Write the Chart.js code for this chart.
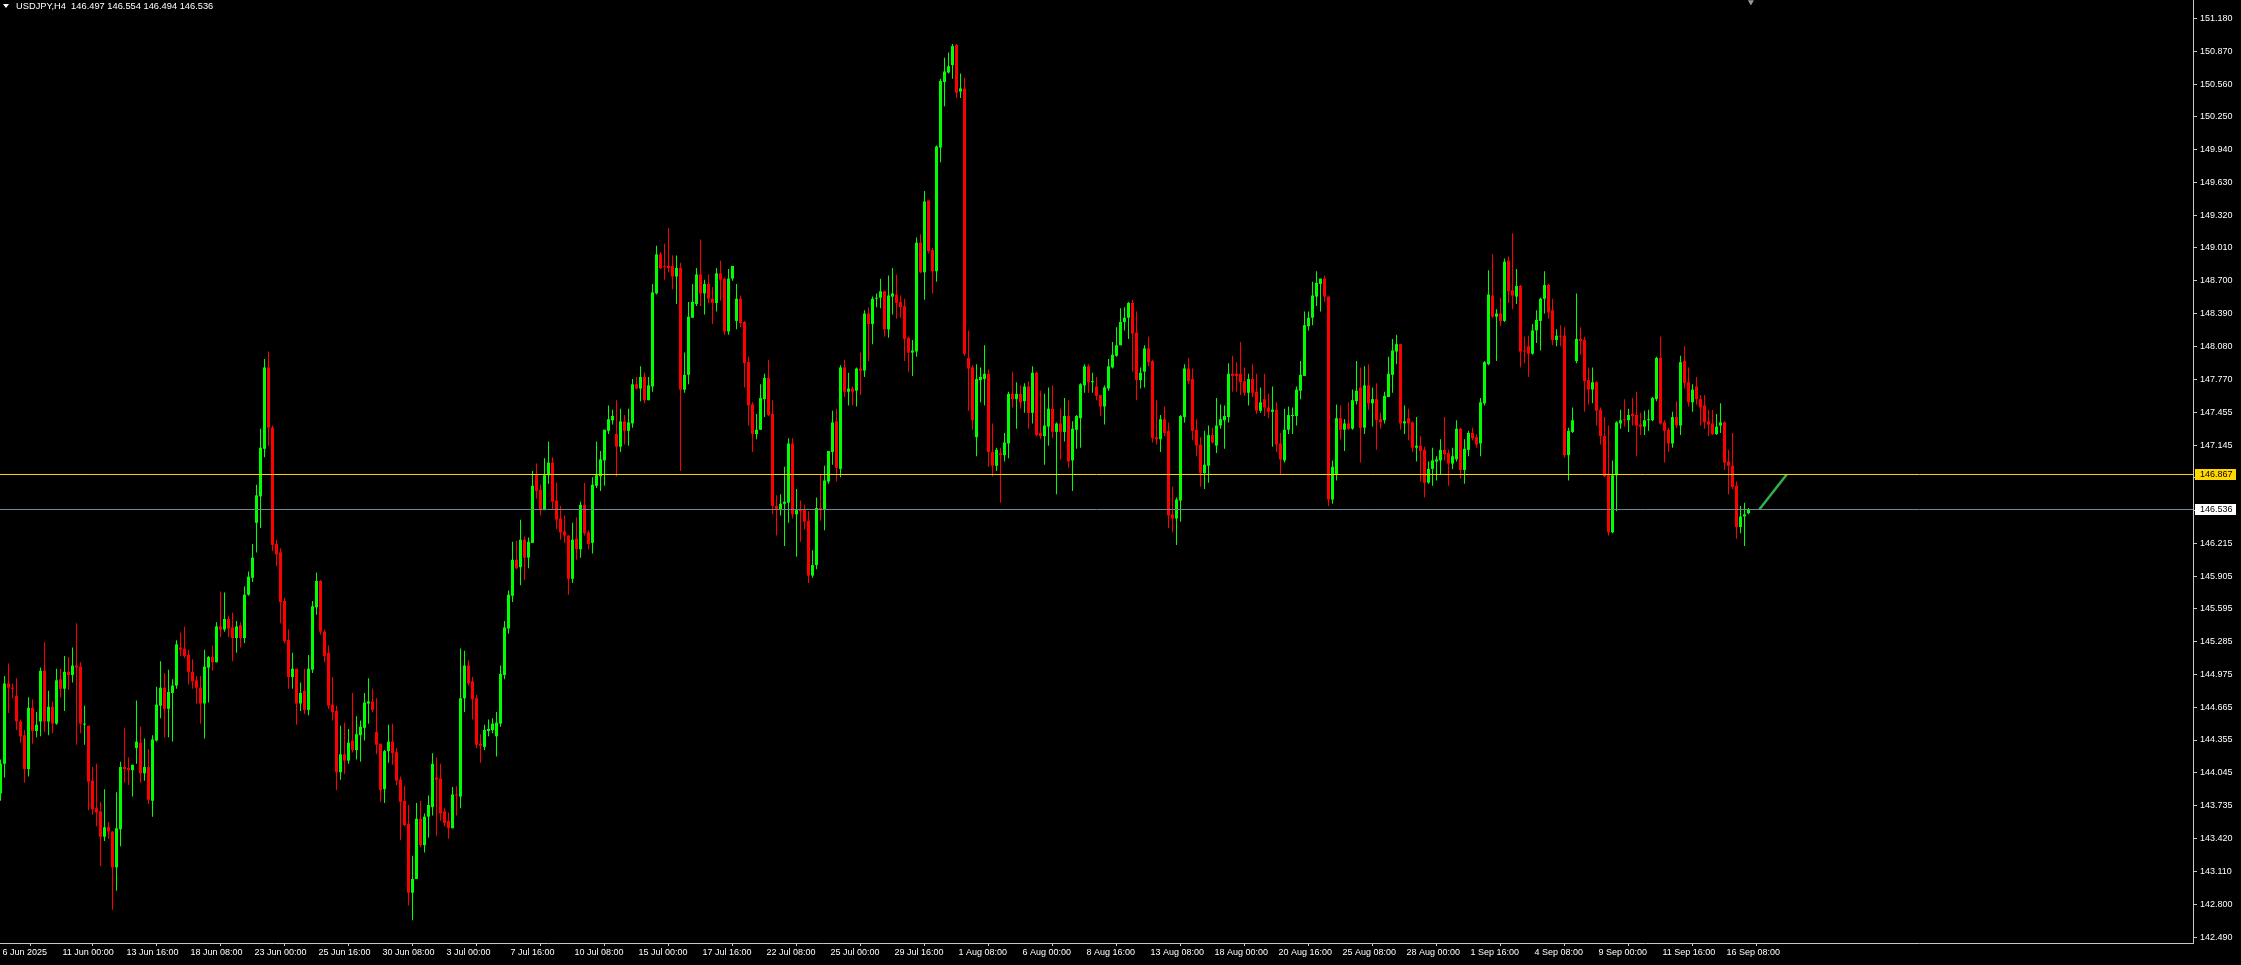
<!DOCTYPE html>
<html>
<head>
<meta charset="utf-8">
<script src="https://cdn.jsdelivr.net/npm/chart.js@4.4.1/dist/chart.umd.min.js"></script>
<style>
  html, body { margin: 0; padding: 0; background: #000; overflow: hidden; }
  #wrap { position: relative; width: 2241px; height: 965px; }
  #head {
    position: absolute; left: 3px; top: 1px;
    color: #fff; font: 9.3px "Liberation Sans", Arial, sans-serif;
    white-space: pre; line-height: 11px;
  }
  #head .tri {
    display: inline-block; width: 0; height: 0; margin-right: 7px; vertical-align: 1px;
    border-left: 3px solid transparent; border-right: 3px solid transparent; border-top: 4px solid #fff;
  }
</style>
</head>
<body>
<div id="wrap">
  <canvas id="chart" width="2241" height="965"></canvas>
  <div id="head"><span class="tri"></span>USDJPY,H4  146.497 146.554 146.494 146.536</div>
</div>
<script>
// H4 bars, first visible bar = index 0
const opens = [
  143.85,144.13,144.89,144.85,144.77,144.53,144.40,144.08,144.66,144.44,
  144.53,145.01,144.53,144.67,144.51,144.93,144.84,145.00,144.97,145.06,
  145.05,144.50,144.49,143.97,143.71,143.68,143.44,143.53,143.49,143.15,
  143.51,144.10,144.09,144.07,144.28,144.33,144.04,144.10,143.78,144.35,
  144.68,144.85,144.65,144.80,144.87,145.23,145.22,145.16,145.00,144.92,
  144.85,144.70,145.04,145.14,145.09,145.43,145.40,145.50,145.42,145.32,
  145.44,145.32,145.73,145.89,146.41,146.66,147.11,147.88,147.31,146.21,
  146.13,145.67,145.30,144.95,145.03,144.70,144.82,144.64,145.02,145.61,
  145.86,145.38,145.18,144.69,144.63,144.05,144.22,144.16,144.35,144.26,
  144.40,144.47,144.70,144.72,144.43,144.32,143.89,144.25,144.34,144.24,
  143.98,143.78,143.56,142.91,143.04,143.61,143.36,143.63,143.72,144.00,
  143.99,143.68,143.59,143.52,143.84,143.82,144.75,145.06,144.91,144.75,
  144.32,144.29,144.44,144.45,144.39,144.51,144.97,145.41,145.72,146.06,
  145.99,146.25,146.08,146.22,146.86,146.72,146.53,146.86,146.98,146.62,
  146.45,146.33,146.29,145.88,146.26,146.16,146.58,146.32,146.22,146.76,
  146.85,147.00,147.28,147.38,147.25,147.13,147.37,147.28,147.35,147.72,
  147.68,147.79,147.57,147.70,148.58,148.95,148.84,148.84,148.84,148.74,
  148.82,147.67,147.81,148.35,148.48,148.76,148.58,148.67,148.53,148.49,
  148.77,148.72,148.22,148.72,148.32,148.53,148.31,147.93,147.53,147.25,
  147.29,147.58,147.78,147.44,146.57,146.54,146.59,146.60,147.16,146.49,
  146.54,146.53,146.43,145.91,146.01,146.55,146.54,146.80,147.08,147.37,
  146.92,147.88,147.65,147.68,147.66,147.87,147.85,148.39,148.29,148.53,
  148.54,148.60,148.24,148.55,148.57,148.50,148.46,148.16,148.02,148.03,
  149.06,148.78,149.46,148.99,148.79,149.96,150.58,150.67,150.74,150.93,
  150.49,150.52,147.97,147.88,147.22,147.76,147.77,147.82,147.08,146.95,
  147.07,147.05,147.16,147.63,147.58,147.63,147.56,147.70,147.45,147.83,
  147.26,147.23,147.32,147.49,147.27,147.35,147.27,147.42,147.00,147.29,
  147.40,147.71,147.89,147.74,147.70,147.62,147.51,147.68,147.88,147.99,
  148.09,148.31,148.35,148.49,148.21,147.76,147.84,148.06,147.94,147.22,
  147.20,147.39,147.28,146.49,146.45,146.62,147.41,147.87,147.77,147.29,
  147.15,146.88,146.95,147.24,147.14,147.33,147.38,147.41,147.82,147.82,
  147.82,147.75,147.64,147.77,147.65,147.47,147.58,147.50,147.46,147.48,
  147.16,147.00,147.29,147.42,147.42,147.66,147.80,148.27,148.35,148.55,
  148.67,148.72,148.55,146.63,146.87,147.40,147.29,147.35,147.30,147.56,
  147.69,147.31,147.71,147.54,147.58,147.39,147.38,147.60,147.81,148.03,
  148.10,147.35,147.40,147.36,147.12,147.14,147.10,146.79,146.92,146.99,
  147.00,147.10,147.07,146.97,147.01,147.30,146.91,147.10,147.26,147.22,
  147.16,147.54,147.91,148.56,148.36,148.39,148.32,148.89,148.61,148.55,
  148.65,148.04,148.08,148.01,148.23,148.32,148.53,148.66,148.42,148.14,
  148.18,148.18,147.05,147.27,147.94,148.15,148.14,147.76,147.67,147.74,
  147.48,147.23,146.86,146.32,146.86,147.35,147.39,147.38,147.44,147.43,
  147.34,147.32,147.38,147.38,147.58,147.97,147.36,147.29,147.16,147.41,
  147.33,147.94,147.74,147.55,147.70,147.58,147.52,147.37,147.35,147.25,
  147.33,147.36,146.99,146.95,146.76,146.37,146.47,146.50
];
const highs = [
  144.17,144.96,145.08,144.89,144.94,144.55,144.45,144.76,144.74,144.62,
  145.04,145.28,144.82,144.72,145.03,145.03,145.15,145.14,145.23,145.46,
  145.09,144.68,144.49,144.10,144.13,143.77,143.89,143.58,143.49,143.86,
  144.15,144.47,144.19,144.12,144.73,144.48,144.37,144.27,144.40,144.86,
  145.10,144.99,145.02,144.93,145.30,145.37,145.43,145.21,145.12,144.96,
  144.96,145.21,145.15,145.25,145.47,145.76,145.75,145.53,145.56,145.48,
  145.47,145.81,145.95,146.21,146.77,147.30,147.96,148.03,147.33,146.25,
  146.17,145.70,145.40,145.18,145.03,144.90,145.03,145.16,145.67,145.94,
  145.87,145.40,145.25,144.95,144.68,144.49,144.52,144.46,144.80,144.58,
  144.54,144.80,144.94,144.84,144.75,144.32,144.26,144.50,144.51,144.28,
  144.01,143.92,143.74,143.26,143.76,143.78,143.66,143.83,144.23,144.19,
  144.13,143.71,143.67,143.91,143.92,145.22,145.20,145.11,144.95,144.78,
  144.41,144.50,144.55,144.56,144.62,145.06,145.48,145.77,146.23,146.24,
  146.44,146.28,146.27,146.90,146.97,146.77,147.02,147.18,147.03,146.79,
  146.57,146.48,146.29,146.41,146.46,146.61,146.79,146.34,146.84,147.18,
  147.09,147.29,147.52,147.48,147.57,147.49,147.43,147.49,147.77,147.79,
  147.89,147.83,147.79,148.67,149.03,148.97,149.05,149.20,148.94,148.94,
  148.87,148.02,148.50,148.67,148.82,149.09,148.71,148.76,148.64,148.82,
  148.89,148.73,148.81,148.84,148.67,148.56,148.32,147.98,147.55,147.44,
  147.72,147.82,147.95,147.57,146.67,146.68,146.94,147.21,147.21,146.73,
  146.62,146.58,146.52,146.15,146.65,146.87,146.95,147.09,147.47,147.49,
  147.90,147.95,147.83,147.70,147.88,148.02,148.42,148.45,148.55,148.58,
  148.72,148.60,148.75,148.82,148.76,148.56,148.53,148.17,148.14,149.11,
  149.14,149.55,149.46,149.01,149.98,150.61,150.81,150.86,150.94,150.94,
  150.66,150.62,148.23,147.90,147.91,147.88,148.09,147.86,147.35,147.12,
  147.12,147.26,147.65,147.84,147.74,147.71,147.73,147.75,147.89,147.84,
  147.66,147.63,147.69,147.71,147.36,147.49,147.59,147.57,147.37,147.43,
  147.73,147.91,147.91,147.83,147.79,147.62,147.71,147.96,148.12,148.26,
  148.44,148.45,148.50,148.52,148.41,147.88,148.09,148.17,147.95,147.57,
  147.43,147.51,147.36,146.75,146.65,147.43,147.91,147.97,147.87,147.39,
  147.22,147.28,147.33,147.31,147.59,147.53,147.52,147.92,147.99,147.93,
  148.12,147.88,147.82,147.91,147.82,147.69,147.82,147.63,147.70,147.55,
  147.26,147.49,147.51,147.50,147.70,147.94,148.41,148.41,148.69,148.79,
  148.72,148.75,148.55,147.00,147.53,147.52,147.39,147.55,147.67,147.94,
  147.88,147.89,147.91,147.69,147.73,147.45,147.65,147.98,148.15,148.19,
  148.10,147.52,147.49,147.37,147.41,147.23,147.13,146.99,147.12,147.04,
  147.20,147.41,147.10,147.12,147.38,147.31,147.20,147.28,147.31,147.25,
  147.59,147.94,148.80,148.95,148.43,148.54,148.91,148.93,149.15,148.81,
  148.66,148.17,148.18,148.29,148.42,148.54,148.79,148.67,148.53,148.24,
  148.28,148.26,147.31,147.50,148.58,148.26,148.17,147.88,147.88,147.75,
  147.50,147.41,147.33,147.00,147.37,147.48,147.58,147.49,147.59,147.65,
  147.45,147.47,147.48,147.60,147.98,148.17,147.38,147.31,147.46,147.56,
  147.99,148.08,147.88,147.72,147.79,147.62,147.62,147.48,147.48,147.44,
  147.54,147.37,147.10,147.26,146.80,146.57,146.60,146.55
];
const lows = [
  143.78,144.00,144.61,144.75,144.45,144.33,143.95,144.01,144.32,144.38,
  144.39,144.43,144.40,144.42,144.50,144.76,144.63,144.83,144.90,144.31,
  144.42,144.31,143.69,143.65,143.54,143.16,143.40,143.42,142.75,142.93,
  143.35,143.95,143.93,143.82,144.13,143.95,143.97,143.75,143.63,144.34,
  144.56,144.38,144.38,144.34,144.84,145.15,145.13,144.88,144.84,144.70,
  144.51,144.37,144.71,145.01,145.09,145.33,145.38,145.33,145.10,145.18,
  145.23,145.27,145.72,145.85,146.13,146.36,147.03,147.14,146.14,146.00,
  145.46,145.27,144.84,144.84,144.50,144.63,144.60,144.59,144.99,145.54,
  145.35,145.09,144.65,144.54,143.88,143.98,144.03,144.13,144.24,144.17,
  144.15,144.35,144.51,144.62,144.22,143.77,143.76,144.14,144.12,143.93,
  143.41,143.54,142.79,142.65,143.04,143.34,143.29,143.43,143.64,143.45,
  143.59,143.54,143.42,143.52,143.64,143.71,144.62,144.87,144.55,144.28,
  144.14,144.26,144.39,144.42,144.20,144.48,144.93,145.36,145.66,145.97,
  145.82,145.87,145.98,146.22,146.64,146.48,146.53,146.78,146.53,146.35,
  146.25,146.22,145.73,145.84,146.06,146.08,146.29,146.16,146.12,146.74,
  146.71,146.76,147.25,147.34,146.85,147.08,147.15,147.14,147.31,147.67,
  147.56,147.54,147.57,147.65,148.57,148.81,148.71,148.78,148.62,148.48,
  146.90,147.64,147.72,148.35,148.46,148.46,148.38,148.49,148.29,148.41,
  148.51,148.19,148.19,148.70,148.24,148.26,147.69,147.33,147.08,147.20,
  147.29,147.41,147.42,146.49,146.29,146.48,146.19,146.41,146.45,146.09,
  146.23,146.35,145.84,145.89,145.97,146.43,146.34,146.78,146.96,146.80,
  146.84,147.60,147.52,147.52,147.51,147.62,147.79,147.94,148.10,148.45,
  148.44,148.17,148.16,148.38,148.34,148.35,147.94,147.84,147.80,147.98,
  148.77,148.52,148.96,148.58,148.69,149.82,150.35,150.66,150.61,150.43,
  150.43,147.99,147.47,147.29,147.04,147.55,147.52,146.94,146.85,146.90,
  146.60,146.99,147.02,147.50,147.30,147.49,147.45,147.30,147.35,147.23,
  147.20,146.96,147.14,147.21,146.68,147.01,147.18,146.93,146.71,147.11,
  147.12,147.64,147.64,147.64,147.57,147.42,147.34,147.66,147.87,147.98,
  148.09,148.23,148.15,147.84,147.57,147.68,147.69,147.89,147.17,147.15,
  147.08,147.23,146.36,146.32,146.20,146.42,147.36,147.72,147.19,147.04,
  146.75,146.73,146.79,147.16,147.07,147.30,147.11,147.36,147.65,147.65,
  147.62,147.61,147.52,147.60,147.44,147.45,147.42,147.40,147.13,147.08,
  146.87,146.98,147.25,147.25,147.33,147.58,147.80,148.23,148.28,148.46,
  148.41,148.50,146.57,146.59,146.81,147.20,147.09,147.29,147.29,147.53,
  146.98,147.25,147.48,147.32,147.10,147.30,147.35,147.60,147.64,147.91,
  147.29,147.25,147.19,147.08,146.99,146.80,146.65,146.78,146.76,146.81,
  146.87,147.00,146.76,146.92,146.99,146.83,146.78,147.04,147.19,147.12,
  147.04,147.52,147.90,148.35,147.94,148.27,148.31,148.49,148.43,148.48,
  147.88,147.92,147.79,148.00,148.11,148.04,148.39,148.34,148.09,148.08,
  148.08,147.03,146.81,147.26,147.92,148.00,147.46,147.53,147.54,147.33,
  147.15,146.84,146.29,146.31,146.52,147.30,147.32,147.27,147.33,147.04,
  147.24,147.24,147.28,147.37,147.56,147.34,146.98,147.08,147.12,147.31,
  147.24,147.68,147.51,147.46,147.53,147.33,147.30,147.23,147.24,147.24,
  147.26,146.91,146.68,146.73,146.26,146.31,146.19,146.49
];
const closes = [
  144.13,144.89,144.85,144.84,144.53,144.39,144.08,144.66,144.44,144.50,
  145.01,144.53,144.67,144.51,144.92,144.84,145.00,144.97,145.06,145.04,
  144.51,144.51,143.96,143.70,143.67,143.44,143.53,143.49,143.15,143.52,
  144.10,144.08,144.07,144.12,144.34,144.04,144.10,143.79,144.36,144.69,
  144.85,144.65,144.81,144.87,145.26,145.21,145.15,145.00,144.91,144.85,
  144.70,145.05,145.14,145.09,145.43,145.40,145.50,145.41,145.32,145.43,
  145.32,145.73,145.90,146.08,146.67,147.12,147.88,147.31,146.20,146.11,
  145.66,145.29,144.95,145.03,144.70,144.80,144.64,145.03,145.62,145.86,
  145.38,145.15,144.68,144.62,144.05,144.22,144.16,144.33,144.26,144.41,
  144.48,144.71,144.72,144.64,144.31,143.88,144.25,144.34,144.23,143.97,
  143.77,143.55,142.91,143.04,143.61,143.36,143.63,143.74,144.13,143.98,
  143.66,143.57,143.52,143.84,143.83,144.75,145.06,144.89,144.74,144.31,
  144.30,144.45,144.46,144.51,144.52,144.98,145.42,145.73,146.06,145.98,
  146.25,146.08,146.23,146.76,146.71,146.53,146.86,146.98,146.61,146.44,
  146.32,146.29,145.88,146.25,146.16,146.58,146.31,146.21,146.77,146.86,
  147.01,147.29,147.39,147.42,147.13,147.37,147.28,147.36,147.72,147.68,
  147.79,147.57,147.71,148.59,148.95,148.82,148.83,148.82,148.74,148.82,
  147.67,147.81,148.36,148.50,148.76,148.58,148.67,148.53,148.49,148.77,
  148.71,148.22,148.72,148.84,148.53,148.30,147.92,147.52,147.25,147.29,
  147.59,147.78,147.43,146.57,146.54,146.59,146.61,147.16,146.49,146.53,
  146.52,146.42,145.91,146.01,146.55,146.53,146.81,147.09,147.36,146.93,
  147.88,147.65,147.68,147.65,147.87,147.85,148.39,148.29,148.53,148.54,
  148.60,148.24,148.56,148.58,148.49,148.45,148.15,148.02,148.04,149.06,
  148.78,149.45,148.98,148.79,149.97,150.59,150.68,150.73,150.92,150.48,
  150.52,148.01,147.87,147.38,147.77,147.79,147.82,147.08,146.95,147.10,
  147.05,147.17,147.63,147.58,147.63,147.55,147.70,147.45,147.83,147.24,
  147.23,147.33,147.49,147.27,147.35,147.27,147.42,146.99,147.30,147.42,
  147.72,147.89,147.74,147.75,147.61,147.51,147.69,147.89,148.00,148.09,
  148.31,148.35,148.49,148.20,147.76,147.83,148.06,147.93,147.21,147.20,
  147.39,147.26,146.48,146.45,146.63,147.42,147.87,147.75,147.28,147.14,
  146.88,146.96,147.24,147.17,147.33,147.39,147.42,147.82,147.80,147.80,
  147.74,147.64,147.77,147.64,147.47,147.55,147.50,147.46,147.48,147.15,
  147.01,147.29,147.43,147.43,147.67,147.81,148.28,148.35,148.56,148.68,
  148.72,148.55,146.63,146.94,147.40,147.29,147.35,147.30,147.57,147.66,
  147.31,147.71,147.54,147.58,147.38,147.36,147.61,147.82,148.04,148.10,
  147.35,147.37,147.35,147.12,147.14,147.09,146.79,146.92,147.00,147.01,
  147.10,147.06,146.97,147.04,147.30,146.91,147.11,147.26,147.21,147.15,
  147.55,147.93,148.57,148.36,148.39,148.32,148.88,148.60,148.56,148.65,
  148.03,148.03,148.01,148.23,148.33,148.53,148.66,148.40,148.14,148.18,
  148.17,147.05,147.28,147.38,148.15,148.13,147.75,147.67,147.74,147.47,
  147.23,146.85,146.32,146.86,147.36,147.38,147.38,147.43,147.42,147.33,
  147.32,147.38,147.39,147.59,147.97,147.35,147.28,147.16,147.41,147.33,
  147.93,147.73,147.55,147.67,147.58,147.50,147.36,147.34,147.25,147.32,
  147.36,146.98,146.95,146.75,146.37,146.47,146.49,146.54
];

// time axis labels and the bar each one belongs to
const timeLabels = ['6 Jun 2025', '11 Jun 00:00', '13 Jun 16:00', '18 Jun 08:00', '23 Jun 00:00',
  '25 Jun 16:00', '30 Jun 08:00', '3 Jul 00:00', '7 Jul 16:00', '10 Jul 08:00', '15 Jul 00:00',
  '17 Jul 16:00', '22 Jul 08:00', '25 Jul 00:00', '29 Jul 16:00', '1 Aug 08:00', '6 Aug 00:00',
  '8 Aug 16:00', '13 Aug 08:00', '18 Aug 00:00', '20 Aug 16:00', '25 Aug 08:00', '28 Aug 00:00',
  '1 Sep 16:00', '4 Sep 08:00', '9 Sep 00:00', '11 Sep 16:00', '16 Sep 08:00'];
const timeLabelBars = [0, 15, 31, 47, 63, 79, 95, 111, 127, 143, 159, 175, 191, 207, 223,
  239, 255, 271, 287, 303, 319, 335, 351, 367, 383, 399, 415, 431];

// price axis labels
const priceTicks = [151.180, 150.870, 150.560, 150.250, 149.940, 149.630, 149.320, 149.010,
  148.700, 148.390, 148.080, 147.770, 147.455, 147.145, 146.835, 146.525, 146.215, 145.905,
  145.595, 145.285, 144.975, 144.665, 144.355, 144.045, 143.735, 143.420, 143.110, 142.800, 142.490];

// horizontal levels: drawn line and bid
const levelLine = 146.867;
const bidLine = 146.536;

// short trend line after the last bar: [bar, price]
const trendX = [439.7, 446.55];
const trendY = [146.536, 146.867];

// chart shift marker at the top
const shiftBar = 437.6;

const Y_MIN = 142.4346;
const Y_MAX = 151.3561;

const UP = '#00ff00';
const DOWN = '#ff0000';
const AXIS = '#c8c8c8';
const FONT = '"Liberation Sans", Arial, sans-serif';

const candleColors = opens.map((o, i) => closes[i] >= o ? UP : DOWN);
const bodies = opens.map((o, i) => ({ x: i, y: [o, closes[i]] }));
const wicks = highs.map((h, i) => ({ x: i, y: [lows[i], h] }));

const labelByBar = {};
timeLabelBars.forEach((b, i) => { labelByBar[b] = timeLabels[i]; });

// price tags on the right axis
const priceTags = {
  id: 'priceTags',
  afterDraw(chart) {
    const ctx = chart.ctx;
    const ys = chart.scales.y;
    const left = ys.left + 2;
    const tags = [
      { v: levelLine, bg: '#ffd700', fg: '#000' },
      { v: bidLine, bg: '#ffffff', fg: '#000' }
    ];
    ctx.save();
    ctx.font = '9px ' + FONT;
    ctx.textBaseline = 'middle';
    tags.forEach(t => {
      const y = Math.round(ys.getPixelForValue(t.v));
      ctx.fillStyle = t.bg;
      ctx.fillRect(left, y - 5, 41, 11);
      ctx.fillStyle = t.fg;
      ctx.fillText(t.v.toFixed(3), left + 5, y + 0.5);
    });
    ctx.restore();
  }
};

new Chart(document.getElementById('chart'), {
  data: {
    datasets: [
      {
        type: 'line',
        data: [{ x: -5, y: levelLine }, { x: 600, y: levelLine }],
        borderColor: '#ffd700', borderWidth: 1, pointRadius: 0, order: 0
      },
      {
        type: 'line',
        data: [{ x: -5, y: bidLine }, { x: 600, y: bidLine }],
        borderColor: '#778899', borderWidth: 1, pointRadius: 0, order: 0
      },
      {
        type: 'line',
        data: trendX.map((x, i) => ({ x, y: trendY[i] })),
        borderColor: '#2fb24a', borderWidth: 2.5, pointRadius: 0, order: 0
      },
      {
        type: 'scatter',
        data: [{ x: shiftBar, y: Y_MAX - 0.02 }],
        pointStyle: 'triangle', rotation: 180, radius: 3.5,
        backgroundColor: '#9a9a9a', borderWidth: 0, clip: false, order: 0
      },
      {
        type: 'bar', data: bodies, backgroundColor: candleColors,
        barThickness: 3, minBarLength: 1, grouped: false, borderWidth: 0, inflateAmount: 0, order: 1
      },
      {
        type: 'bar', data: wicks, backgroundColor: candleColors,
        barThickness: 1, grouped: false, borderWidth: 0, inflateAmount: 0, order: 2
      }
    ]
  },
  options: {
    responsive: false,
    animation: false,
    devicePixelRatio: 1,
    layout: { padding: 0, autoPadding: false },
    plugins: { legend: { display: false }, tooltip: { enabled: false } },
    scales: {
      x: {
        type: 'linear', position: 'bottom', offset: false,
        min: -0.125, max: 548.125,
        afterBuildTicks: s => { s.ticks = timeLabelBars.map(v => ({ value: v })); },
        afterFit: s => { s.height = 22; s.paddingLeft = 0; s.paddingRight = 0; },
        grid: { drawOnChartArea: false, drawTicks: true, tickLength: 3, color: AXIS },
        border: { display: true, color: AXIS },
        ticks: {
          color: '#fff', font: { family: FONT, size: 9 }, align: 'start', labelOffset: 2,
          maxRotation: 0, autoSkip: false, padding: 1,
          callback: v => labelByBar[v] || ''
        }
      },
      y: {
        type: 'linear', position: 'right',
        min: Y_MIN, max: Y_MAX,
        afterBuildTicks: s => { s.ticks = priceTicks.map(v => ({ value: v })); },
        afterFit: s => { s.width = 48; s.paddingTop = 0; s.paddingBottom = 0; },
        grid: { drawOnChartArea: false, drawTicks: true, tickLength: 4, color: AXIS },
        border: { display: true, color: AXIS },
        ticks: {
          color: '#fff', font: { family: FONT, size: 9 }, padding: 3, autoSkip: false,
          callback: v => Number(v).toFixed(3)
        }
      }
    }
  },
  plugins: [priceTags]
});
</script>
</body>
</html>
